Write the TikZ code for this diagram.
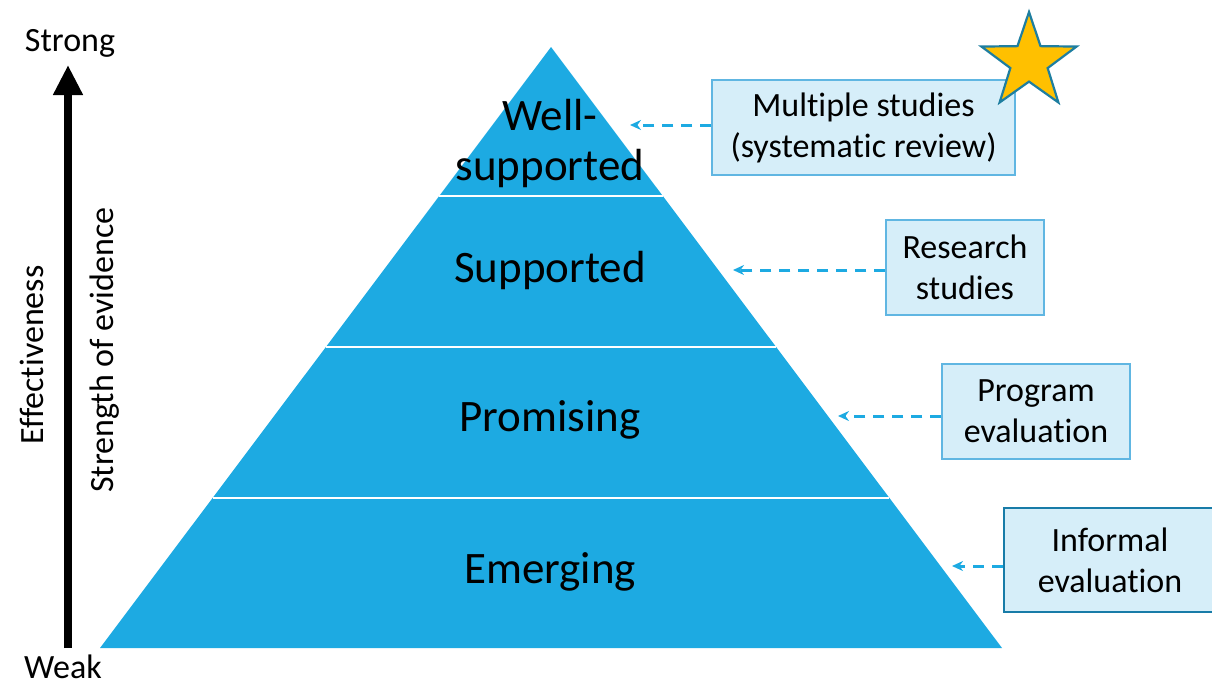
\documentclass[tikz,border=0pt]{standalone}
\usepackage{fontspec}
\setmainfont{Carlito}[Ligatures=NoCommon]
\usetikzlibrary{arrows.meta,shapes.geometric}

\definecolor{pyrblue}{RGB}{29,170,226}
\definecolor{boxfill}{RGB}{214,238,249}
\definecolor{boxline}{RGB}{96,182,226}
\definecolor{boxdark}{RGB}{24,124,168}
\definecolor{stargold}{RGB}{255,192,0}
\definecolor{starline}{RGB}{30,126,160}

\tikzset{
  level/.style={font=\fontsize{45}{50}\selectfont, align=center, text=black},
  evbox/.style={draw=boxline, fill=boxfill, line width=1.2pt, align=center,
    font=\fontsize{34}{41}\selectfont, inner sep=0pt},
  side/.style={font=\fontsize{34}{40}\selectfont},
  link/.style={draw=pyrblue, line width=3pt, dash pattern=on 11pt off 8pt,
    -{Stealth[length=11pt,width=10pt]}}
}

\begin{document}
\begin{tikzpicture}[x=1pt, y=-1pt]
 \useasboundingbox (0,0) rectangle (1212,689);

 % pyramid
 \fill[pyrblue] (551,47) -- (1002,648) -- (100,648) -- cycle;
 \draw[white, line width=1.5pt] (439,196) -- (663,196);
 \draw[white, line width=1.5pt] (326,347) -- (776,347);
 \draw[white, line width=1.5pt] (213,498) -- (889,498);

 \node (well)  [level] at (550,143) {Well-\\supported};
 \node (supp)  [level] at (550,270) {Supported};
 \node (prom)  [level] at (550,420) {Promising};
 \node (emer)  [level] at (550,572) {Emerging};

 % evidence boxes
 \node (multi) [evbox, minimum width=303pt, minimum height=95pt] at (863.5,127.5) {Multiple studies\\(systematic review)};
 \node (res)   [evbox, minimum width=158pt, minimum height=95pt] at (965,267.5) {Research\\studies};
 \node (prog)  [evbox, minimum width=188pt, minimum height=95pt] at (1036,411.5) {Program\\evaluation};
 \node (inf)   [evbox, draw=boxdark, line width=2.5pt, minimum width=212pt, minimum height=104pt] at (1110,560) {Informal\\evaluation};

 \coordinate (multiend) at (630,125);
 \coordinate (resend)   at (733,270);
 \coordinate (progend)  at (838,416);
 \coordinate (infend)   at (952,566);

 \draw[link] (multi.west |- multiend) -- (multiend);
 \draw[link] (res.west |- resend) -- (resend);
 \draw[link] (prog.west |- progend) -- (progend);
 \draw[link] (inf.west |- infend) -- (infend);

 % star
 \node (star) [star, star points=5, star point ratio=2.55, minimum size=100pt, inner sep=0pt,
   fill=stargold, draw=starline, line width=2.2pt] at (1029,62) {};

 % left axis
 \node (strong) [side] at (70,43) {Strong};
 \node (weak)   [side] at (63,667) {Weak};
 \coordinate (axbot) at (68,648);
 \coordinate (axtop) at (68,65);
 \draw[line width=8pt, -{Triangle[length=30pt,width=28pt]}] (axbot) -- (axtop);
 \node (eff) [side, rotate=90] at (32,355) {Effectiveness};
 \node (str) [side, rotate=90] at (105,350) {Strength of evidence};
\end{tikzpicture}
\end{document}
